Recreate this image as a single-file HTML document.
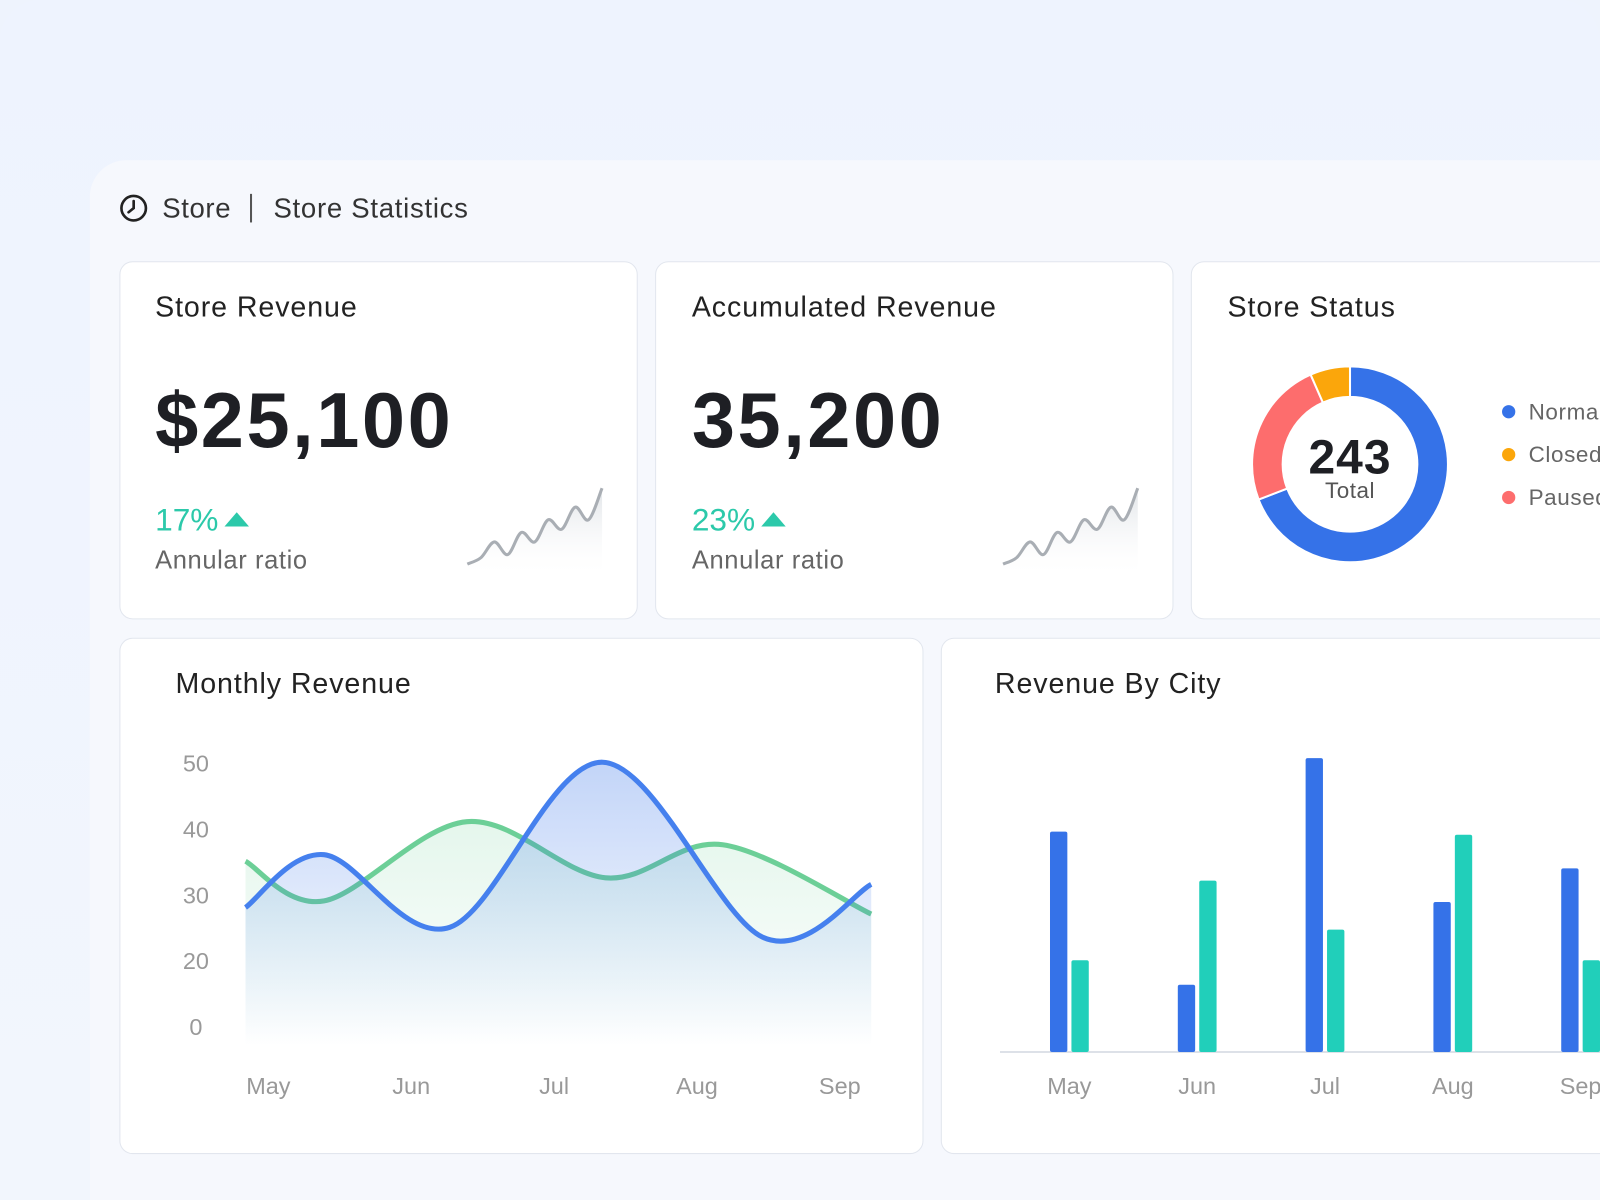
<!DOCTYPE html>
<html><head><meta charset="utf-8">
<style>
html,body{margin:0;padding:0;width:1600px;height:1200px;overflow:hidden;background:#eef3fd;font-family:"Liberation Sans",sans-serif;}
#stage{position:absolute;left:0;top:0;width:1568px;height:1176px;transform:scale(1.020408);transform-origin:0 0;overflow:hidden;
 background:linear-gradient(180deg,#eef3fe 0%,#f2f6fd 100%);border-radius:40px 40px 0 0;}
.panel{position:absolute;left:88px;top:157px;width:1480px;height:1019px;background:#f6f8fd;border-radius:36px 0 0 0;}
.card{position:absolute;background:#fff;border:1px solid #e2e6ee;border-radius:13px;box-sizing:border-box;overflow:hidden;}
.t{position:absolute;white-space:nowrap;}
.title{font-size:28px;color:#222;letter-spacing:0.9px;}
.big{font-size:76px;font-weight:bold;color:#1e1f24;letter-spacing:2.5px;}
.pct{font-size:31px;color:#2cc9aa;}
.sub{font-size:25px;color:#666;letter-spacing:0.6px;}
</style></head><body>
<div id="stage">
<div class="panel"></div>

<svg class="t" style="left:116px;top:189px" width="30" height="30">
<circle cx="15" cy="15" r="12" fill="none" stroke="#222" stroke-width="2.6"/>
<path d="M15 8 L15 15 L10 19" fill="none" stroke="#222" stroke-width="2.6" stroke-linecap="round"/>
</svg>
<div class="t" style="left:159px;top:189px;font-size:27px;color:#333;letter-spacing:0.6px">Store</div>
<div class="t" style="left:245px;top:190px;width:2px;height:28px;background:#555"></div>
<div class="t" style="left:268px;top:189px;font-size:27px;color:#333;letter-spacing:0.7px">Store Statistics</div>

<!-- card 1 -->
<div class="card" style="left:117px;top:256px;width:508px;height:351px">
 <div class="t title" style="left:34px;top:28px">Store Revenue</div>
 <div class="t big" style="left:34px;top:112px">$25,100</div>
 <div class="t pct" style="left:34px;top:235px">17%<span style="display:inline-block;width:0;height:0;border-left:12px solid transparent;border-right:12px solid transparent;border-bottom:14px solid #2cc9aa;margin-left:6px;vertical-align:4px"></span></div>
 <div class="t sub" style="left:34px;top:278px">Annular ratio</div>
 <svg class="t spark" style="left:330px;top:210px" width="150" height="110"></svg>
</div>
<!-- card 2 -->
<div class="card" style="left:642px;top:256px;width:508px;height:351px">
 <div class="t title" style="left:35px;top:28px">Accumulated Revenue</div>
 <div class="t big" style="left:35px;top:112px">35,200</div>
 <div class="t pct" style="left:35px;top:235px">23%<span style="display:inline-block;width:0;height:0;border-left:12px solid transparent;border-right:12px solid transparent;border-bottom:14px solid #2cc9aa;margin-left:6px;vertical-align:4px"></span></div>
 <div class="t sub" style="left:35px;top:278px">Annular ratio</div>
 <svg class="t spark" style="left:330px;top:210px" width="150" height="110"></svg>
</div>
<!-- card 3 -->
<div class="card" style="left:1167px;top:256px;width:420px;height:351px">
 <div class="t title" style="left:35px;top:28px">Store Status</div>
</div>
<svg class="t" id="donut" style="left:1200px;top:330px" width="250" height="250"></svg>
<div class="t" style="left:1223px;top:420px;width:200px;text-align:center;font-size:47px;font-weight:bold;color:#1e1f24;letter-spacing:1px">243</div>
<div class="t" style="left:1223px;top:468px;width:200px;text-align:center;font-size:22px;color:#555;letter-spacing:0.5px">Total</div>
<div id="legend"></div>

<!-- monthly revenue -->
<div class="card" style="left:117px;top:625px;width:788px;height:506px">
 <div class="t title" style="left:54px;top:28px">Monthly Revenue</div>
</div>
<svg class="t" id="line" style="left:0;top:0" width="1568" height="1176"></svg>

<!-- revenue by city -->
<div class="card" style="left:922px;top:625px;width:680px;height:506px">
 <div class="t title" style="left:52px;top:28px">Revenue By City</div>
</div>
<svg class="t" id="bar" style="left:0;top:0" width="1568" height="1176"></svg>
</div>

<script>
// ---- data ----
const lineMonths = ["May","Jun","Jul","Aug","Sep"];
const yTickLabels = ["50","40","30","20","0"];
const blueX = [-0.16,0.39,1.27,2.34,3.46,4.22];
const blueY = [28,36,25,50,23.5,31.5];
const greenX = [-0.16,0.39,1.39,2.36,3.18,4.22];
const greenY = [35,29,41,32.5,37.5,27];
const barMonths = ["May","Jun","Jul","Aug","Sep"];
const barBlue = [72,22,96,49,60];
const barTeal = [30,56,40,71,30];
const statusLabels = ["Normal","Closed","Paused"];
const statusValues = [168,16,59];
const statusColors = ["#3572e8","#fba60b","#fd6d6d"];
const spark1 = [2,4,9,5,12,9,16,13,20,16,26];
const spark2 = [2,4,9,5,12,9,16,13,20,16,26];

const NS="http://www.w3.org/2000/svg";
function mk(parent,tag,attrs){const e=document.createElementNS(NS,tag);for(const k in attrs)e.setAttribute(k,attrs[k]);parent.appendChild(e);return e;}
function smooth(pts){let d="M"+pts[0][0]+" "+pts[0][1];for(let i=0;i<pts.length-1;i++){const p0=pts[i-1]||pts[i],p1=pts[i],p2=pts[i+1],p3=pts[i+2]||p2;
 const c1=[p1[0]+(p2[0]-p0[0])/6,p1[1]+(p2[1]-p0[1])/6],c2=[p2[0]-(p3[0]-p1[0])/6,p2[1]-(p3[1]-p1[1])/6];
 d+=" C"+c1[0]+" "+c1[1]+" "+c2[0]+" "+c2[1]+" "+p2[0]+" "+p2[1];}return d;}

// ---- line chart ----
const line=document.getElementById('line');
const lx=m=>263+m*140, ly=v=>747+(50-v)*6.47;
const defs=mk(line,'defs',{});
const gb=mk(defs,'linearGradient',{id:'gb',x1:0,y1:0,x2:0,y2:1});
mk(gb,'stop',{offset:'0','stop-color':'#3572e8','stop-opacity':'0.3'});mk(gb,'stop',{offset:'1','stop-color':'#3572e8','stop-opacity':'0'});
const gg=mk(defs,'linearGradient',{id:'gg',x1:0,y1:0,x2:0,y2:1});
mk(gg,'stop',{offset:'0','stop-color':'#6ccf97','stop-opacity':'0.18'});mk(gg,'stop',{offset:'1','stop-color':'#6ccf97','stop-opacity':'0'});
yTickLabels.forEach((t,i)=>{const e=mk(line,'text',{x:192,y:747+i*64.6+9,'text-anchor':'middle','font-size':23,fill:'#999','font-family':'Liberation Sans'});e.textContent=t;

});
lineMonths.forEach((m,i)=>{const e=mk(line,'text',{x:lx(i),y:1072,'text-anchor':'middle','font-size':23,fill:'#999','font-family':'Liberation Sans'});e.textContent=m;

});
[[greenX,greenY,'#6ccf97','gg','green-series'],[blueX,blueY,'#4580ee','gb','blue-series']].forEach(s=>{
 const pts=s[0].map((x,i)=>[lx(x),ly(s[1][i])]);const d=smooth(pts);
 const a=mk(line,'path',{d:d+" L"+pts[pts.length-1][0]+" 1025 L"+pts[0][0]+" 1025 Z",fill:'url(#'+s[3]+')'});
 
 
 const p=mk(line,'path',{d:d,fill:'none',stroke:s[2],'stroke-width':5});
 
 
});

// ---- bar chart ----
const bar=document.getElementById('bar');
const bx=i=>1048+i*125.25, by=v=>v*3;
const ax=mk(bar,'line',{x1:980,y1:1031,x2:1568,y2:1031,stroke:'#dde1e8','stroke-width':2});


barMonths.forEach((m,i)=>{
 const b=mk(bar,'rect',{x:bx(i)-19,y:1031-by(barBlue[i]),width:17,height:by(barBlue[i]),rx:2,fill:'#3572e8'});
 
 
 const t=mk(bar,'rect',{x:bx(i)+2,y:1031-by(barTeal[i]),width:17,height:by(barTeal[i]),rx:2,fill:'#21cfba'});
 
 
 const e=mk(bar,'text',{x:bx(i),y:1072,'text-anchor':'middle','font-size':23,fill:'#999','font-family':'Liberation Sans'});e.textContent=m;
 
 
});

// ---- donut ----
const dn=document.getElementById('donut');
const cx=123,cy=125,R=96,r=66;const total=statusValues.reduce((a,b)=>a+b,0);
const order=[0,2,1];let ang=0;
order.forEach(k=>{const a0=ang,a1=ang+statusValues[k]/total*2*Math.PI;ang=a1;
 const P=(rad,a)=>[cx+rad*Math.sin(a),cy-rad*Math.cos(a)];const lg=(a1-a0)>Math.PI?1:0;
 const [x0,y0]=P(R,a0),[x1,y1]=P(R,a1),[x2,y2]=P(r,a1),[x3,y3]=P(r,a0);
 const s=mk(dn,'path',{d:`M${x0} ${y0} A${R} ${R} 0 ${lg} 1 ${x1} ${y1} L${x2} ${y2} A${r} ${r} 0 ${lg} 0 ${x3} ${y3} Z`,fill:statusColors[k],stroke:'#fff','stroke-width':2});
 
 
});
const lg=document.getElementById('legend');
statusLabels.forEach((l,i)=>{const d=document.createElement('div');d.className='t';d.style.cssText=`left:1472px;top:${391+i*42}px;font-size:22px;color:#666;letter-spacing:0.6px;`;
 d.innerHTML=`<span style="display:inline-block;width:13px;height:13px;border-radius:50%;background:${statusColors[i]};margin-right:13px;vertical-align:1px"></span>${l}`;
 
 
 lg.appendChild(d);});

// ---- sparklines ----
document.querySelectorAll('.spark').forEach((sv,si)=>{const data=si?spark2:spark1;
 const g=mk(sv,'defs',{});const gr=mk(g,'linearGradient',{id:'sg'+si,x1:0,y1:0,x2:0,y2:1});
 mk(gr,'stop',{offset:'0','stop-color':'#ccd2d8','stop-opacity':'0.6'});mk(gr,'stop',{offset:'1','stop-color':'#fff','stop-opacity':'0'});
 const pts=data.map((v,i)=>[10+i*13.2,92-v*3.1]);const d=smooth(pts);
 const a=mk(sv,'path',{d:d+` L${pts[pts.length-1][0]} 100 L${pts[0][0]} 100 Z`,fill:'url(#sg'+si+')'});
 
 
 const p=mk(sv,'path',{d:d,fill:'none',stroke:'#a9aeb4','stroke-width':3});
 
 
});
</script>
</body></html>
